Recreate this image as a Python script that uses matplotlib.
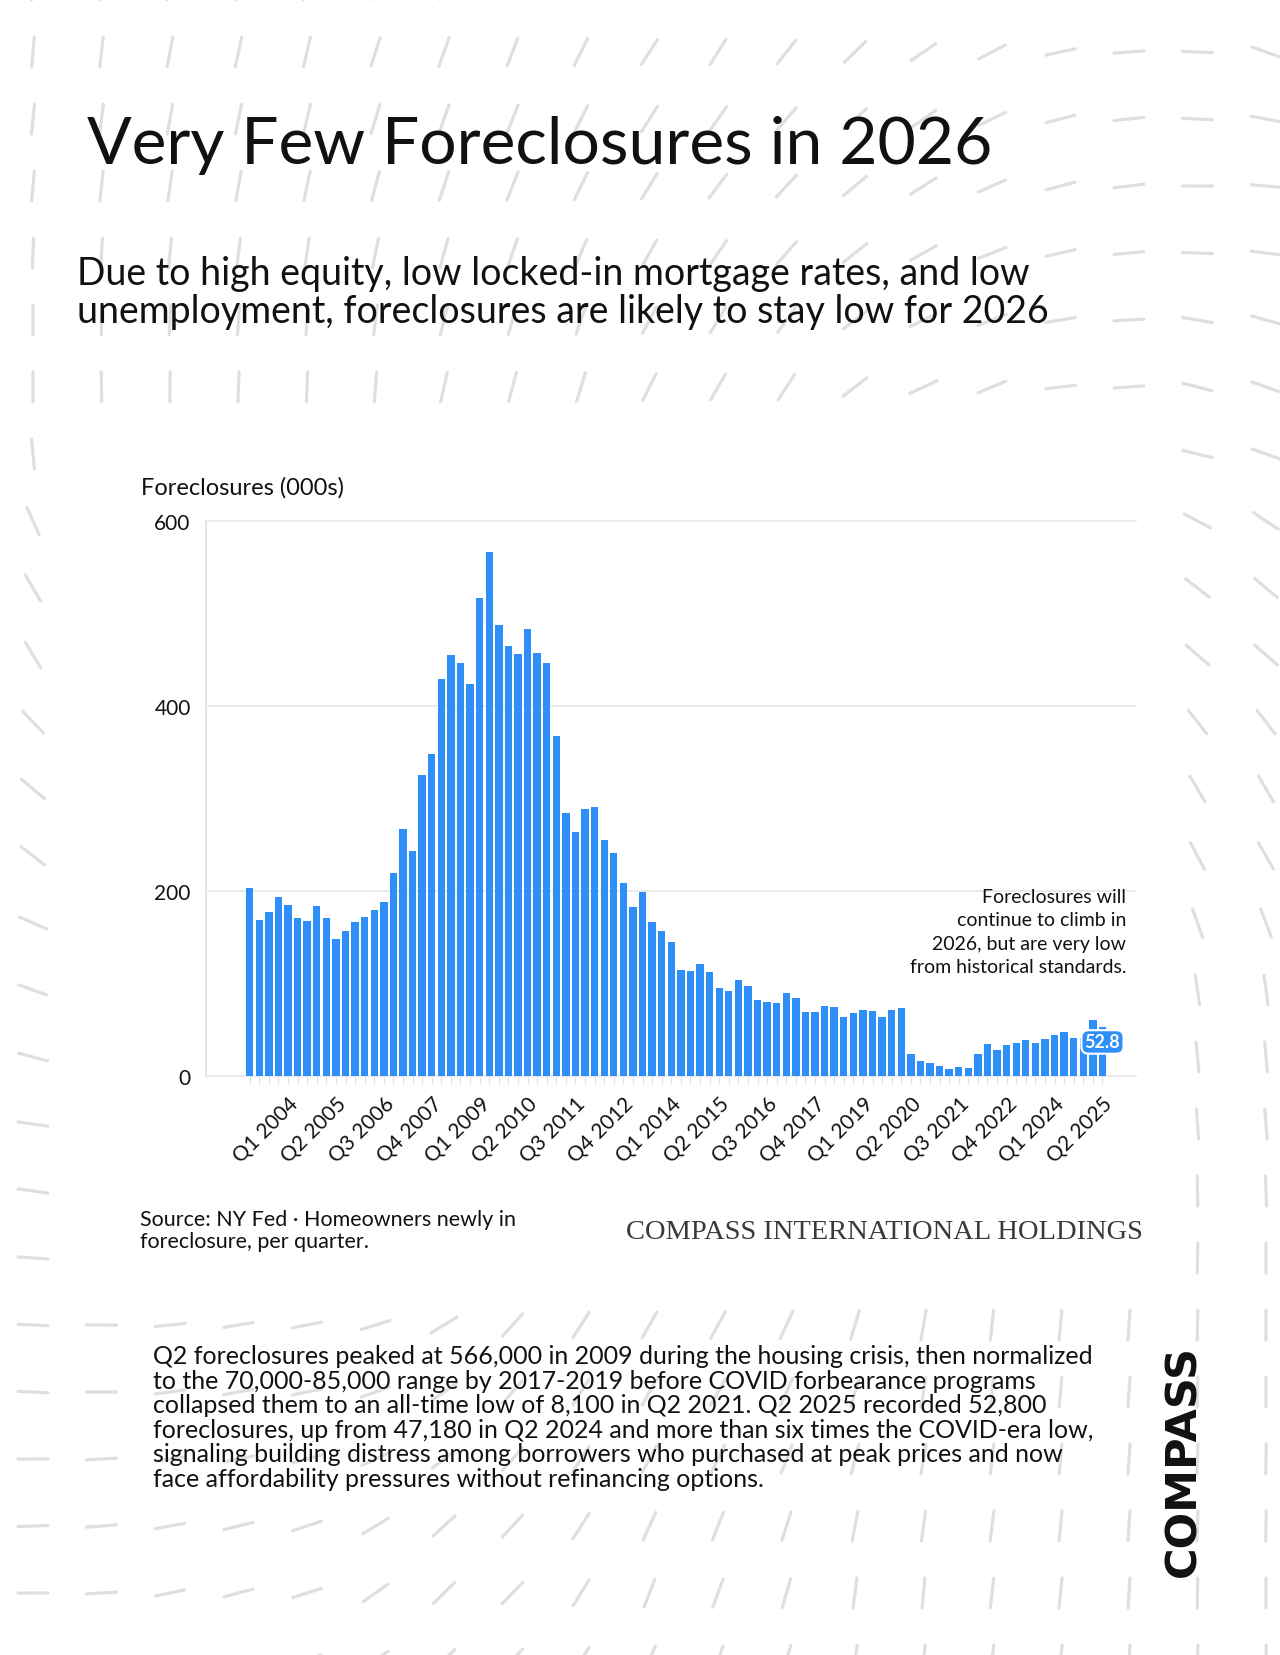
import numpy as np
import matplotlib.pyplot as plt
from matplotlib.patches import Rectangle
from matplotlib.collections import LineCollection

plt.rcParams['font.family'] = ['Lato', 'DejaVu Sans']

W, H = 1280, 1656

# New foreclosures per quarter (000s), Q1 2003 - Q2 2025
foreclosures = [
    203, 169, 177, 193,   # 2003
    185, 171, 168, 184,   # 2004
    171, 148, 157, 166,   # 2005
    172, 179, 188, 220,   # 2006
    267, 243, 325, 348,   # 2007
    429, 455, 446, 424,   # 2008
    517, 566, 488, 465,   # 2009
    456, 483, 457, 447,   # 2010
    368, 284, 264, 289,   # 2011
    291, 255, 241, 209,   # 2012
    183, 199, 167, 157,   # 2013
    145, 115, 113, 121,   # 2014
    112, 95, 92, 104,     # 2015
    97, 82, 80, 79,       # 2016
    90, 84, 69, 69,       # 2017
    76, 75, 64, 68,       # 2018
    71, 70, 64, 71,       # 2019
    74, 24, 16, 14,       # 2020
    11, 8.1, 9.4, 8.7,    # 2021
    24, 35, 28, 34,       # 2022
    36, 38.6, 36, 40,     # 2023
    44, 47.2, 41, 41,     # 2024
    61, 52.8,             # 2025
]
quarters = [f"Q{q} {y}" for y in range(2003, 2026) for q in range(1, 5)][:len(foreclosures)]
label_idx = list(range(4, len(foreclosures), 5))
y_ticks = [0, 200, 400, 600]

title = "Very Few Foreclosures in 2026"
subtitle = ["Due to high equity, low locked-in mortgage rates, and low",
            "unemployment, foreclosures are likely to stay low for 2026"]
note = ["Foreclosures will", "continue to climb in",
        "2026, but are very low", "from historical standards."]
source = ["Source: NY Fed \u00b7 Homeowners newly in", "foreclosure, per quarter."]
body = [
    "Q2 foreclosures peaked at 566,000 in 2009 during the housing crisis, then normalized",
    "to the 70,000-85,000 range by 2017-2019 before COVID forbearance programs",
    "collapsed them to an all-time low of 8,100 in Q2 2021. Q2 2025 recorded 52,800",
    "foreclosures, up from 47,180 in Q2 2024 and more than six times the COVID-era low,",
    "signaling building distress among borrowers who purchased at peak prices and now",
    "face affordability pressures without refinancing options.",
]

# direction of background strokes at a few spots (x, y, degrees)
stroke_anchors = np.array([
    (37, 45, 85), (230, 45, 78), (440, 45, 70), (690, 45, 58), (830, 45, 45),
    (900, 45, 32), (1010, 45, 12), (1110, 45, 0), (1190, 45, -20),
    (37, 360, 90), (300, 360, 88), (500, 360, 75), (700, 360, 60), (900, 360, 25),
    (1040, 360, 5), (1180, 360, -20),
    (37, 560, -60), (37, 770, -40), (37, 930, -20), (37, 1080, -8), (37, 1300, -3), (37, 1520, 0),
    (230, 1520, 15), (440, 1520, 45), (650, 1520, 70), (860, 1520, 85), (1190, 1520, 90),
    (1190, 560, -40), (1190, 780, -60), (1190, 1000, -85), (1190, 1300, 90),
    (230, 1300, 10), (650, 1300, 60), (1000, 1300, 85),
], dtype=float)

BLUE = '#2F8FF8'

fig = plt.figure(figsize=(12.8, 16.56), dpi=100)
fig.patch.set_facecolor('white')

# background layer in pixel coordinates
bg = fig.add_axes([0, 0, 1, 1])
bg.set_xlim(0, W)
bg.set_ylim(H, 0)
bg.axis('off')

gx = 33 + 68.5 * np.arange(19)
gy = -14 + 67 * np.arange(26)
X, Y = np.meshgrid(gx, gy)
sc = W / 1212
axx, ayy, adeg = stroke_anchors[:, 0] * sc, stroke_anchors[:, 1] * sc, stroke_anchors[:, 2]
w = 1 / ((X[..., None] - axx) ** 2 + (Y[..., None] - ayy) ** 2 + 1)
c = (w * np.cos(np.radians(2 * adeg))).sum(-1)
s = (w * np.sin(np.radians(2 * adeg))).sum(-1)
theta = 0.5 * np.arctan2(s, c)
dx, dy = 15 * np.cos(theta), -15 * np.sin(theta)
segs = np.stack([np.stack([X - dx, Y - dy], -1), np.stack([X + dx, Y + dy], -1)], -2).reshape(-1, 2, 2)
bg.add_collection(LineCollection(segs, colors='#dfdfdf', linewidths=2.3, capstyle='round', zorder=1))

# white panel behind the chart
bg.add_patch(Rectangle((62, 425), 1175 - 62, 1278 - 425, fc='white', ec='none', zorder=2))

bg.text(87, 164, title, fontsize=47.5, va='baseline', color='#111111', zorder=3)
for i, line in enumerate(subtitle):
    bg.text(77, 285 + i * 38, line, fontsize=27, va='baseline', color='#111111', zorder=3)

bg.text(141, 495, "Foreclosures (000s)", fontsize=17, va='baseline', color='#111111', zorder=3)

for i, line in enumerate(source):
    bg.text(140, 1226 + i * 22, line, fontsize=15.5, va='baseline', color='#111111', zorder=3)
bg.text(626, 1239, "COMPASS INTERNATIONAL HOLDINGS", fontsize=20.5, family='Liberation Serif',
        va='baseline', color='#3a3a3a', zorder=3)

for i, line in enumerate(body):
    bg.text(153, 1364 + i * 24.6, line, fontsize=18, va='baseline', color='#111111', zorder=3)

bg.text(1183, 1461, "COMPASS", fontsize=31, family='DejaVu Sans', fontweight='bold',
        rotation=90, ha='center', va='center', color='#111111', zorder=3)

# chart
ax = fig.add_axes([206 / W, 1 - 1077 / H, 930 / W, 555 / H])
ax.set_facecolor('none')
x = np.arange(len(foreclosures))
ax.bar(x, foreclosures, width=0.77, color=BLUE, zorder=3)
ax.set_xlim(-4.56, 92.5)
ax.set_ylim(0, 600)

for yv in y_ticks:
    ax.axhline(yv, color='#ebebeb', lw=1.4, zorder=0, clip_on=False)
ax.set_yticks(y_ticks)
ax.tick_params(axis='y', length=0, pad=11, labelsize=15, labelcolor='#111111')

for side in ['top', 'right', 'bottom']:
    ax.spines[side].set_visible(False)
ax.spines['left'].set_color('#e6e6e6')
ax.spines['left'].set_linewidth(1.4)

ax.set_xticks(x, minor=True)
ax.set_xticks(label_idx)
ax.set_xticklabels([quarters[i] for i in label_idx], rotation=45, ha='right', va='top',
                   rotation_mode='anchor', fontsize=15, color='#111111')
ax.tick_params(axis='x', which='both', length=6, width=1, color='#e2e2e2', pad=6)

# side note drawn above the gridlines
for i, line in enumerate(note):
    ax.text(1126, 903 + i * 23.5, line, transform=bg.transData, fontsize=14, ha='right',
            va='baseline', color='#111111', zorder=6)

last = len(foreclosures) - 1
ax.text(last, foreclosures[last] - 16, f"{foreclosures[last]:.1f}", ha='center', va='center',
        fontsize=13, fontweight='bold', color='white', zorder=5,
        bbox=dict(boxstyle='round,pad=0.18,rounding_size=0.4', fc=BLUE, ec='white', lw=1.5))

fig.savefig('out.png', dpi=100, facecolor='white')
